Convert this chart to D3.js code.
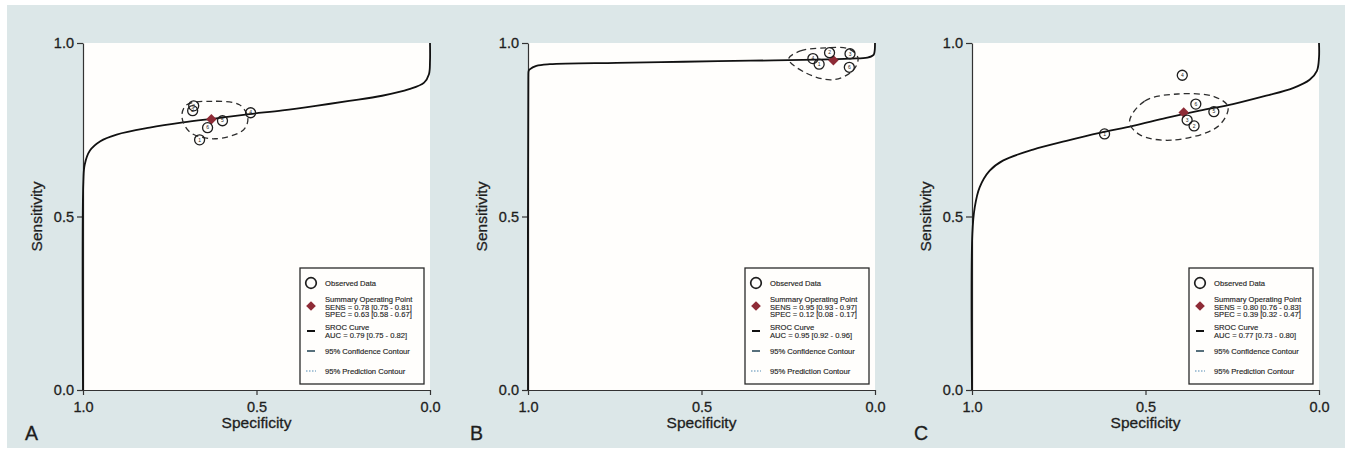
<!DOCTYPE html>
<html>
  <head>
    <meta charset="utf-8">
    <title>SROC curves</title>
    <script src="https://cdn.jsdelivr.net/npm/d3@7"></script>
    <style>
      body { margin: 0; background: #fff; }
      text { font-family: "Liberation Sans", Arial, sans-serif; }
    </style>
  </head>
  <body>
    <svg width="1345" height="449" id="mainsvg"></svg>
    <script>

    // panel letters and the summary estimates shown in each legend
    const panels = ['A', 'B', 'C'];
    const sensText = ['SENS = 0.78 [0.75 - 0.81]', 'SENS = 0.95 [0.93 - 0.97]', 'SENS = 0.80 [0.76 - 0.83]'];
    const specText = ['SPEC = 0.63 [0.58 - 0.67]', 'SPEC = 0.12 [0.08 - 0.17]', 'SPEC = 0.39 [0.32 - 0.47]'];
    const aucText  = ['AUC = 0.79 [0.75 - 0.82]', 'AUC = 0.95 [0.92 - 0.96]', 'AUC = 0.77 [0.73 - 0.80]'];
    const summarySens = [0.78, 0.95, 0.80];
    const summarySpec = [0.63, 0.12, 0.39];
    const tickValues = [0, 0.5, 1];

    // observed studies
    const studyA = [3, 2, 1, 4, 5, 6];
    const specA  = [0.681, 0.684, 0.664, 0.517, 0.598, 0.641];
    const sensA  = [0.819, 0.805, 0.721, 0.799, 0.776, 0.756];
    const studyB = [4, 1, 2, 3, 6];
    const specB  = [0.179, 0.161, 0.131, 0.072, 0.074];
    const sensB  = [0.955, 0.939, 0.972, 0.969, 0.930];
    const studyC = [1, 2, 3, 4, 5, 6];
    const specC  = [0.618, 0.360, 0.380, 0.394, 0.303, 0.355];
    const sensC  = [0.738, 0.761, 0.778, 0.907, 0.802, 0.824];

    // SROC curves
    const srocSpecA = [1, 0.999, 0.995, 0.98, 0.95, 0.903, 0.808, 0.712, 0.616, 0.52, 0.425, 0.329, 0.233, 0.138, 0.06, 0.017, 0.003, 0, 0];
    const srocSensA = [0, 0.60, 0.65, 0.69, 0.717, 0.736, 0.756, 0.771, 0.783, 0.795, 0.806, 0.819, 0.833, 0.848, 0.867, 0.886, 0.91, 0.948, 1.0];
    const srocSpecB = [1, 0.999, 0.998, 0.995, 0.976, 0.937, 0.745, 0.552, 0.359, 0.166, 0.07, 0.022, 0.004, 0.001, 0];
    const srocSensB = [0, 0.90, 0.920, 0.924, 0.934, 0.939, 0.943, 0.946, 0.949, 0.952, 0.955, 0.958, 0.966, 0.977, 1.0];
    const srocSpecC = [1, 0.999, 0.992, 0.978, 0.949, 0.911, 0.824, 0.728, 0.632, 0.536, 0.44, 0.344, 0.248, 0.152, 0.075, 0.027, 0.006, 0, 0];
    const srocSensC = [0, 0.450, 0.527, 0.584, 0.632, 0.661, 0.693, 0.718, 0.741, 0.761, 0.784, 0.805, 0.824, 0.848, 0.870, 0.894, 0.920, 0.958, 1.0];

    // 95% confidence contours
    const confSpecA = [0.715, 0.701, 0.629, 0.549, 0.525, 0.537, 0.621, 0.693];
    const confSensA = [0.790, 0.822, 0.832, 0.822, 0.785, 0.750, 0.724, 0.744];
    const confSpecB = [0.249, 0.215, 0.142, 0.075, 0.049, 0.064, 0.122, 0.200];
    const confSensB = [0.954, 0.977, 0.986, 0.983, 0.957, 0.920, 0.894, 0.914];
    const confSpecC = [0.546, 0.502, 0.407, 0.301, 0.262, 0.292, 0.425, 0.517];
    const confSensC = [0.773, 0.833, 0.853, 0.845, 0.816, 0.759, 0.720, 0.736];

    const studies = [studyA, studyB, studyC];
    const studySpec = [specA, specB, specC];
    const studySens = [sensA, sensB, sensC];
    const srocSpec = [srocSpecA, srocSpecB, srocSpecC];
    const srocSens = [srocSensA, srocSensB, srocSensC];
    const confSpec = [confSpecA, confSpecB, confSpecC];
    const confSens = [confSensA, confSensB, confSensC];

    const svg = d3.select('svg');
    const plotLeft = [83, 528, 972];
    const plotW = 347;
    const plotTop = 43, plotBottom = 390;
    const ink = '#1e1e1e';
    const red = '#8e2b36';

    svg.append('rect').attr('x', 7).attr('y', 5).attr('width', 1338).attr('height', 443).attr('fill', '#dce7e8');

    const zip = (a, b) => a.map((v, i) => [v, b[i]]);

    panels.forEach(function(name, p) {
        const x = d3.scaleLinear().domain([1, 0]).range([plotLeft[p], plotLeft[p] + plotW]);
        const y = d3.scaleLinear().domain([0, 1]).range([plotBottom, plotTop]);
        const g = svg.append('g');

        g.append('rect').attr('x', x(1)).attr('y', y(1))
            .attr('width', x(0) - x(1)).attr('height', y(0) - y(1)).attr('fill', '#fffefc');

        // axes
        const ya = g.append('g').attr('transform', `translate(${x(1)},0)`)
            .call(d3.axisLeft(y).tickValues(tickValues).tickFormat(d3.format('.1f')).tickSize(6).tickSizeOuter(0).tickPadding(3));
        const xa = g.append('g').attr('transform', `translate(0,${y(0)})`)
            .call(d3.axisBottom(x).tickValues(tickValues).tickFormat(d3.format('.1f')).tickSize(5).tickSizeOuter(0).tickPadding(7));
        [ya, xa].forEach(a => {
            a.selectAll('text').attr('font-size', 14.5).attr('fill', ink).attr('stroke', ink).attr('stroke-width', 0.3)
                .attr('font-family', '"Liberation Sans", Arial, sans-serif');
            a.selectAll('line, path').attr('stroke', '#333').attr('stroke-width', 1.2);
        });

        g.append('text').attr('x', (x(1) + x(0)) / 2).attr('y', 428).attr('text-anchor', 'middle')
            .attr('font-size', 15.5).attr('fill', ink).attr('stroke', ink).attr('stroke-width', 0.3).text('Specificity');
        g.append('text').attr('transform', `translate(${x(1) - 41},${(plotTop + plotBottom) / 2}) rotate(-90)`)
            .attr('text-anchor', 'middle').attr('font-size', 15.5).attr('fill', ink).attr('stroke', ink).attr('stroke-width', 0.3)
            .text('Sensitivity');
        g.append('text').attr('x', x(1) - 58).attr('y', 440).attr('font-size', 19.5).attr('fill', ink)
            .attr('stroke', ink).attr('stroke-width', 0.3).text(name);

        // SROC curve
        const line = d3.line().x(d => x(d[0])).y(d => y(d[1]));
        g.append('path').datum(zip(srocSpec[p], srocSens[p]))
            .attr('d', line.curve(d3.curveCatmullRom.alpha(0.5)))
            .attr('fill', 'none').attr('stroke', '#111').attr('stroke-width', 1.8);

        // confidence contour
        g.append('path').datum(zip(confSpec[p], confSens[p]))
            .attr('d', d3.line().x(d => x(d[0])).y(d => y(d[1])).curve(d3.curveCatmullRomClosed.alpha(0.5)))
            .attr('fill', 'none').attr('stroke', '#2e2e2e').attr('stroke-width', 1.3).attr('stroke-dasharray', '6,4');

        // summary point
        g.append('path').attr('d', d3.symbol(d3.symbolDiamond2, 70)())
            .attr('transform', `translate(${x(summarySpec[p])},${y(summarySens[p])})`).attr('fill', red);

        // observed data
        const pts = g.selectAll('g.study').data(studies[p].map((s, i) => ({ s: s, sp: studySpec[p][i], se: studySens[p][i] })))
            .enter().append('g').attr('class', 'study')
            .attr('transform', d => `translate(${x(d.sp)},${y(d.se)})`);
        pts.append('circle').attr('r', 5).attr('fill', 'none').attr('stroke', ink).attr('stroke-width', 1.3);
        pts.append('text').attr('text-anchor', 'middle').attr('dy', '0.35em').attr('font-size', 5)
            .attr('fill', ink).text(d => d.s);

        // legend
        const L = x(0) - 130, T = 268;
        const lg = g.append('g').attr('transform', `translate(${L},${T})`);
        lg.append('rect').attr('x', 0).attr('y', 0).attr('width', 124).attr('height', 116)
            .attr('fill', '#fffefc').attr('stroke', '#2a2a2a').attr('stroke-width', 1.3);
        lg.append('circle').attr('cx', 11).attr('cy', 15).attr('r', 5.3).attr('fill', 'none').attr('stroke', ink).attr('stroke-width', 1.7);
        lg.append('path').attr('d', d3.symbol(d3.symbolDiamond2, 60)()).attr('transform', 'translate(11,38)').attr('fill', red);
        lg.append('line').attr('x1', 7).attr('x2', 15).attr('y1', 63).attr('y2', 63).attr('stroke', '#111').attr('stroke-width', 2);
        lg.append('line').attr('x1', 7).attr('x2', 15).attr('y1', 83).attr('y2', 83).attr('stroke', '#2d4d5c').attr('stroke-width', 1.6);
        lg.append('line').attr('x1', 6).attr('x2', 16).attr('y1', 103).attr('y2', 103).attr('stroke', '#8db3cc')
            .attr('stroke-width', 1.3).attr('stroke-dasharray', '1.5,1.5');
        const rows = [
            ['Observed Data', 15],
            ['Summary Operating Point', 31], [sensText[p], 39], [specText[p], 46.5],
            ['SROC Curve', 59], [aucText[p], 67],
            ['95% Confidence Contour', 83],
            ['95% Prediction Contour', 103]
        ];
        lg.selectAll('text.row').data(rows).enter().append('text').attr('class', 'row')
            .attr('x', 25).attr('y', d => d[1]).attr('dy', '0.35em')
            .attr('font-size', 7.6).attr('fill', '#262626').attr('stroke', '#262626').attr('stroke-width', 0.15)
            .text(d => d[0]);
    });

  </script>
  </body>
</html>
